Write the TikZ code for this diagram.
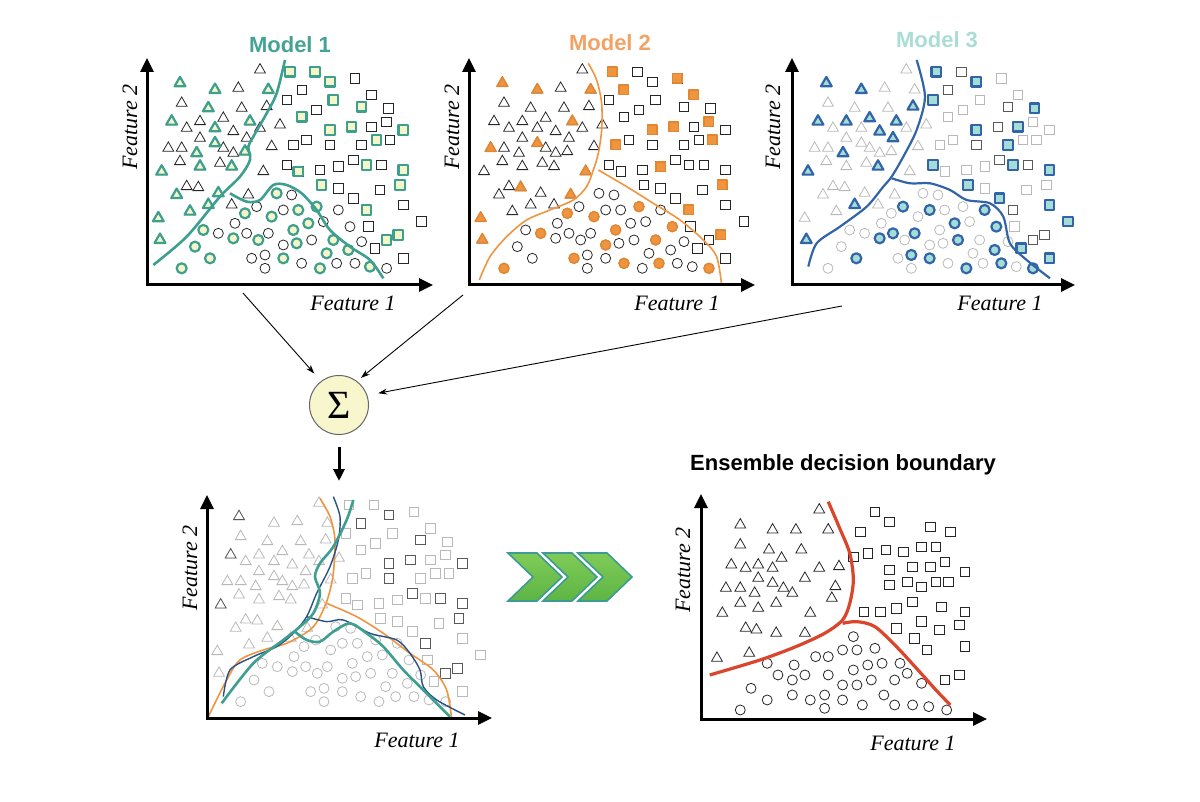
\documentclass[tikz,border=0pt]{standalone}
\usepackage{fontspec}
\setmainfont{Liberation Serif}
\newfontfamily\headfont{Liberation Sans}
\usetikzlibrary{arrows.meta,shapes.geometric}

\definecolor{modA}{HTML}{3E9E90}
\definecolor{modAfill}{HTML}{F4F6C8}
\definecolor{modAtext}{HTML}{45A396}
\definecolor{modB}{HTML}{F0953F}
\definecolor{modBline}{HTML}{E38632}
\definecolor{modBtext}{HTML}{F2A263}
\definecolor{modC}{HTML}{3265A8}
\definecolor{modCfill}{HTML}{A6DCD6}
\definecolor{modCtext}{HTML}{A9DDD5}
\definecolor{ensred}{HTML}{D9462B}
\definecolor{sumfill}{HTML}{F8F6CD}
\definecolor{chevtop}{HTML}{80CB58}
\definecolor{chevbot}{HTML}{5DB544}
\definecolor{chevline}{HTML}{3E9A94}

\tikzset{
  tri/.style={regular polygon, regular polygon sides=3, draw=black!85, minimum size=12.5pt, inner sep=0pt, line width=0.8pt, yshift=-1.5pt},
  sq/.style={rectangle, draw=black!85, minimum size=9.5pt, inner sep=0pt, line width=0.8pt},
  circ/.style={circle, draw=black!85, minimum size=10pt, inner sep=0pt, line width=0.8pt},
  hlA/.style={draw=modA, fill=modAfill, line width=2.2pt, line join=round},
  hlB/.style={draw=modBline, fill=modB, line width=1.5pt, line join=round},
  hlC/.style={draw=modC, fill=modCfill, line width=2.2pt, line join=round},
  faint/.style={draw=gray!55},
  darker/.style={draw=black!65, fill=white},
  faxis/.style={line width=3pt, {Triangle[length=14pt,width=13pt]}-{Triangle[length=14pt,width=13pt]}},
  feat/.style={font=\fontsize{22}{24}\selectfont\itshape},
  headlbl/.style={font=\headfont\bfseries\fontsize{22}{24}\selectfont},
  panel/.style={shift={(#1)}, x=0.3333pt, y=-0.3333pt},
  feed/.style={-{Stealth[length=9pt,width=6pt]}, line width=0.9pt},
  chev/.style={draw=chevline, line width=1.6pt, top color=chevtop, bottom color=chevbot},
}

% one marker node per point of a list
\newcommand\plotmarks[3]{\foreach \x/\y [count=\k] in #3 {\node[#1,#2] (#1\k) at (\x,\y) {};}}

% shared data (coordinates in 1/3 px)
\def\triAll{420/115,180/155,285/175,355/170,445/175,185/215,265/230,365/230,440/225,155/270,200/290,240/270,310/260,390/270,285/290,480/280,240/320,340/300,380/320,420/290,145/350,185/350,230/365,285/335,310/350,340/365,375/360,455/345,180/390,240/405,300/395,335/405,125/420,430/420,200/465,235/468,170/490,295/485,385/490,265/520,335/520,210/540,115/560,120/625}
\def\sqAll{510/125,585/125,630/155,705/145,545/180,500/210,640/210,755/195,545/260,590/240,725/230,805/235,630/300,695/290,755/290,800/275,850/300,520/345,560/330,630/345,725/345,770/330,810/330,500/405,535/425,600/420,655/410,700/390,740/405,785/405,850/420,605/465,655/475,700/505,780/480,840/465,740/540,850/525,905/575,745/590,800/630,835/615,765/655,850/685}
\def\cirAll{470/490,515/495,410/530,490/540,535/540,590/530,375/550,455/560,345/580,610/575,655/540,520/600,565/580,250/600,295/610,340/625,380/610,415/630,445/610,490/645,530/640,575/630,640/630,690/590,725/635,225/650,270/685,395/685,435/675,490/685,545/700,620/670,685/660,185/715,435/715,600/715,650/700,705/700,750/710,800/715}

% highlighted points of each model
\def\triA{180/155,285/175,445/175,265/230,155/270,390/270,285/290,230/365,285/335,375/360,240/405,335/405,125/420,170/490,295/485,265/520,210/540,115/560,120/625}
\def\sqA{510/125,585/125,630/155,640/210,545/260,725/230,630/300,695/290,850/300,770/330,535/425,740/405,850/420,605/465,840/465,740/540,800/630,835/615}
\def\cirA{470/490,535/540,590/530,375/550,455/560,520/600,565/580,250/600,340/625,415/630,530/640,640/630,225/650,270/685,490/685,620/670,685/660,185/715,600/715,750/710}
\def\triB{180/155,285/175,445/175,390/270,285/335,145/350,430/420,235/468,385/490,115/560,120/625}
\def\sqB{510/125,545/180,705/145,755/195,630/300,695/290,800/275,810/330,520/345,655/410,840/465,740/540,835/615}
\def\cirB{590/530,375/550,455/560,520/600,295/610,690/590,490/645,640/630,395/685,545/700,650/700,800/715,185/715}
\def\triC{180/155,285/175,440/225,155/270,240/270,310/260,390/270,340/300,380/320,230/365,335/405,125/420,265/520,120/625}
\def\sqC{510/125,630/155,500/210,805/235,630/300,755/290,725/345,500/405,740/405,850/420,605/465,700/505,850/525,905/575,765/655,850/685}
\def\cirC{410/530,490/540,655/540,565/580,690/590,380/610,340/625,445/610,575/630,270/685,435/675,490/685,685/660,705/700,600/715,800/715}

% darker grey points
\def\sqDarkC{585/125,545/180,725/230,695/290,630/345,700/390,785/405,740/540,800/630,835/615}
\def\sqDark{630/155,545/180,725/230,695/290,630/300,630/345,850/300,700/390,785/405,850/420,840/465,740/540,800/630,835/615}
\def\triDark{180/155,155/270,125/420}

% ensemble panel
\def\triE{945/205,725/250,815/265,880/265,970/265,725/310,805/325,895/325,840/350,700/370,740/380,775/370,815/380,945/380,1000/375,775/410,815/425,905/410,685/440,725/440,765/455,845/440,870/455,990/435,725/485,775/500,825/485,980/470,675/515,920/515,740/560,770/565,825/575,905/575,660/650,750/635}
\def\sqE{1100/215,1140/245,1255/260,1310/275,1060/275,1040/350,1080/340,1130/330,1180/335,1230/320,1270/320,1295/365,1140/390,1205/380,1255/380,1350/395,1140/435,1190/425,1230/440,1270/425,1305/425,1070/515,1115/515,1160/505,1205/485,1285/500,1350/515,1230/545,1335/555,1160/565,1210/595,1280/570,1245/630,1350/620,1295/720,1335/705}
\def\cirE{800/670,875/675,935/650,970/650,1010/630,1050/630,1100/625,1040/590,830/705,870/720,905/705,970/705,1040/690,1080/675,1120/670,1170/670,1190/700,1010/735,1050/735,1090/720,1155/720,1230/730,755/745,800/780,870/765,920/780,960/765,960/805,1010/780,1065/795,1125/765,1155/795,1205/795,1250/800,1300/810,725/810}

\begin{document}
\begin{tikzpicture}[x=1pt, y=-1pt]
\useasboundingbox (0,0) rectangle (1200,802);

% Model 1
\begin{scope}[panel={120,30}]
  \plotmarks{tri}{}{\triAll} \plotmarks{sq}{}{\sqAll} \plotmarks{circ}{}{\cirAll}
  \plotmarks{tri}{hlA}{\triA} \plotmarks{sq}{hlA}{\sqA} \plotmarks{circ}{hlA}{\cirA}
  \draw[modA, line width=2.6pt] plot[smooth] coordinates {(100,705) (200,620) (300,500) (360,440) (390,390) (385,350) (400,320) (440,250) (470,190) (495,90)};
  \draw[modA, line width=2.6pt] plot[smooth] coordinates {(330,490) (380,515) (420,510) (460,465) (500,465) (545,490) (590,540) (630,600) (690,650) (750,690) (790,745)};
\end{scope}
\draw[faxis] (147,58) -- (147,285) -- (433,285);
\node[headlbl, text=modAtext] (t1) at (290,45) {Model 1};
\node[feat] (x1) at (353,303) {Feature 1};
\node[feat, rotate=90] (y1) at (130,127) {Feature 2};

% Model 2
\begin{scope}[panel={442.33,30}]
  \plotmarks{tri}{}{\triAll} \plotmarks{sq}{}{\sqAll} \plotmarks{circ}{}{\cirAll}
  \plotmarks{tri}{hlB}{\triB} \plotmarks{sq}{hlB}{\sqB} \plotmarks{circ}{hlB}{\cirB}
  \draw[modB, line width=1.6pt] plot[smooth] coordinates {(438,100) (463,150) (478,220) (478,300) (468,370) (453,420) (433,470) (393,510) (323,540) (253,570) (193,620) (143,680) (111,750)};
  \draw[modB, line width=1.6pt] plot[smooth] coordinates {(468,420) (553,470) (633,520) (713,570) (783,630) (823,680) (838,765)};
\end{scope}
\draw[faxis] (469,58) -- (469,285) -- (755,285);
\node[headlbl, text=modBtext] (t2) at (610,43) {Model 2};
\node[feat] (x2) at (677,303) {Feature 1};
\node[feat, rotate=90] (y2) at (452,127) {Feature 2};

% Model 3
\begin{scope}[panel={766.33,30}]
  \plotmarks{tri}{faint}{\triAll} \plotmarks{sq}{faint}{\sqAll} \plotmarks{circ}{faint}{\cirAll}
  \plotmarks{sq}{darker}{\sqDarkC}
  \plotmarks{tri}{hlC}{\triC} \plotmarks{sq}{hlC}{\sqC} \plotmarks{circ}{hlC}{\cirC}
  \draw[modC, line width=2.2pt] plot[smooth] coordinates {(126,710) (151,640) (221,590) (301,530) (351,470) (376,440) (411,380) (451,300) (476,200) (451,90)};
  \draw[modC, line width=2.2pt] plot[smooth] coordinates {(376,445) (431,460) (491,460) (551,480) (601,510) (671,520) (711,560) (731,640) (781,690) (851,745)};
\end{scope}
\draw[faxis] (792,58) -- (792,285) -- (1075,285);
\node[headlbl, text=modCtext] (t3) at (937,40) {Model 3};
\node[feat] (x3) at (1000,303) {Feature 1};
\node[feat, rotate=90] (y3) at (773,127) {Feature 2};

% Sum
\node[circle, draw=black!60, fill=sumfill, minimum size=59pt, inner sep=0pt, line width=1pt, font=\fontsize{40}{40}\selectfont] (sum) at (339,405) {Σ};
\coordinate (m1out) at (243,293);
\coordinate (m2out) at (463,295);
\coordinate (m3out) at (842,306);
\draw[feed, shorten >=10pt] (m1out) -- (sum.127);
\draw[feed, shorten >=5pt] (m2out) -- (sum.53);
\draw[feed, shorten >=11pt] (m3out) -- (sum.19);
\draw[line width=3pt, -{Triangle[length=12pt,width=11pt]}] ([yshift=-12pt]sum.south) -- ++(0,34);

% All models together
\begin{scope}[panel={179,463.33}]
  \plotmarks{tri}{faint}{\triAll} \plotmarks{sq}{faint}{\sqAll} \plotmarks{circ}{faint}{\cirAll}
  \plotmarks{sq}{darker}{\sqDark} \plotmarks{tri}{darker}{\triDark}
  \draw[modB, line width=1.6pt] plot[smooth] coordinates {(423,105) (453,160) (468,230) (463,330) (448,400) (423,460) (393,500) (323,540) (253,560) (183,590) (143,650) (88,760)};
  \draw[modB, line width=1.6pt] plot[smooth] coordinates {(443,420) (533,460) (613,510) (693,570) (763,620) (803,680) (818,765)};
  \draw[modC!80!black, line width=1.4pt] plot[smooth] coordinates {(463,100) (483,160) (478,230) (453,310) (413,390) (383,460) (343,510) (293,550) (223,580) (153,620) (133,700)};
  \draw[modC!80!black, line width=1.4pt] plot[smooth] coordinates {(383,460) (443,475) (493,470) (573,510) (653,530) (693,570) (723,620) (733,670) (773,710) (858,755)};
  \draw[modA, line width=2.6pt] plot[smooth] coordinates {(523,110) (503,170) (463,250) (423,300) (408,340) (423,390) (403,450) (363,490) (313,530) (223,600) (128,720)};
  \draw[modA, line width=2.6pt] plot[smooth] coordinates {(348,505) (383,530) (423,535) (463,505) (513,480) (563,510) (613,550) (673,620) (733,680) (783,730) (813,760)};
\end{scope}
\draw[faxis] (207,495) -- (207,718) -- (492,718);
\node[feat] (x4) at (417,740) {Feature 1};
\node[feat, rotate=90] (y4) at (190,568) {Feature 2};

% Chevrons
\foreach \i in {0,1,2}
  \path[chev] ({508+35*\i},553) -- ++(29,0) -- ++(25,24) -- ++(-25,24) -- ++(-29,0) -- ++(25,-24) -- cycle;

% Ensemble
\begin{scope}[shift={(480,440)}, x=0.359pt, y=-0.3333pt]
  \plotmarks{tri}{}{\triE} \plotmarks{sq}{}{\sqE} \plotmarks{circ}{}{\cirE}
  \draw[ensred, line width=3.2pt] plot[smooth] coordinates {(970,185) (1000,260) (1030,340) (1040,420) (1030,490) (1010,540) (960,580) (880,620) (780,660) (640,705)};
  \draw[ensred, line width=3.2pt] plot[smooth] coordinates {(1010,550) (1050,545) (1100,560) (1160,620) (1220,690) (1270,750) (1310,795)};
\end{scope}
\draw[faxis] (701,494) -- (701,719) -- (987,719);
\node[headlbl] (t5) at (843,465) {Ensemble decision boundary};
\node[feat] (x5) at (913,743) {Feature 1};
\node[feat, rotate=90] (y5) at (683,570) {Feature 2};

\end{tikzpicture}
\end{document}
